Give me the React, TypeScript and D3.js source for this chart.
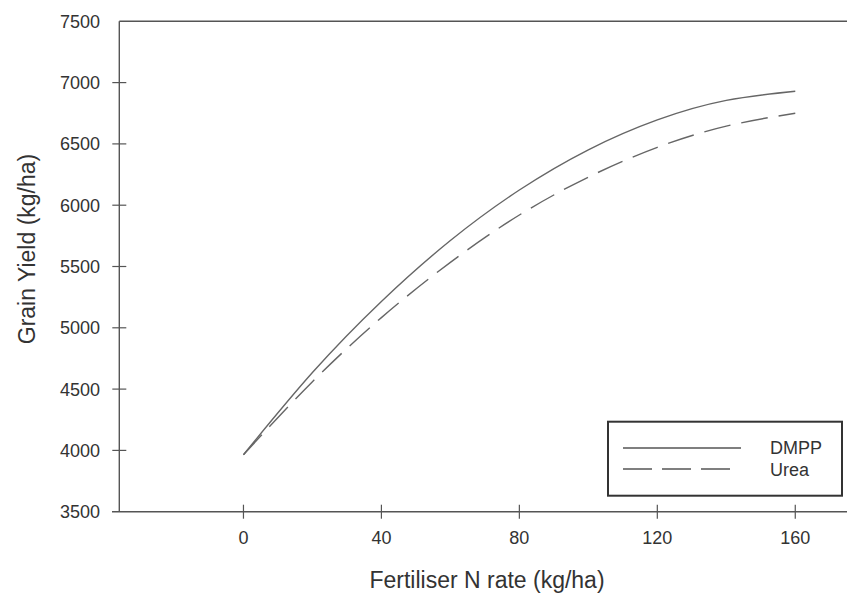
import React, { useEffect, useRef } from 'react'
import * as d3 from 'd3'

// N rates (kg/ha) where the curves were read
const nRates = [0, 20, 40, 60, 80, 100, 120, 140, 160]
// grain yield (kg/ha)
const dmpp = [3965, 4635, 5215, 5712, 6124, 6452, 6696, 6855, 6930]
const urea = [3965, 4560, 5083, 5534, 5920, 6229, 6472, 6645, 6750]

const xTicks = [0, 40, 80, 120, 160]
const yTicks = [3500, 4000, 4500, 5000, 5500, 6000, 6500, 7000, 7500]

const series = [
  { name: 'DMPP', values: dmpp, dash: null },
  { name: 'Urea', values: urea, dash: '27,11' },
]

const W = 847, H = 601
const FONT = '"Liberation Sans", Arial, sans-serif'
const INK = '#555'

export default function App() {
  const ref = useRef<SVGSVGElement>(null)

  useEffect(() => {
    const svg = d3.select(ref.current)
    svg.selectAll('*').remove()

    const x = d3.scaleLinear().domain([-36, 175]).range([119.3, 847])
    const y = d3.scaleLinear().domain([3500, 7500]).range([511.7, 21.3])

    const g = svg.append('g')

    // frame: y axis, top line, x axis (runs a little past the y axis)
    g.append('line').attr('x1', x(-36)).attr('x2', x(-36)).attr('y1', y(7500)).attr('y2', y(3500))
      .attr('stroke', INK).attr('stroke-width', 1.4)
    g.append('line').attr('x1', x(-36)).attr('x2', W).attr('y1', y(7500)).attr('y2', y(7500))
      .attr('stroke', INK).attr('stroke-width', 1.4)
    g.append('line').attr('x1', 112).attr('x2', W).attr('y1', y(3500)).attr('y2', y(3500))
      .attr('stroke', INK).attr('stroke-width', 1.4)

    // y ticks
    const yt = g.selectAll('.yt').data(yTicks).enter().append('g').attr('class', 'yt')
    yt.filter(d => d !== 7500 && d !== 3500).append('line')
      .attr('x1', x(-36) - 7).attr('x2', x(-36) + 7)
      .attr('y1', d => y(d)).attr('y2', d => y(d))
      .attr('stroke', INK).attr('stroke-width', 1.2)
    yt.append('text')
      .attr('x', 100).attr('y', d => y(d)).attr('dy', '0.36em')
      .attr('text-anchor', 'end').attr('font-family', FONT).attr('font-size', 18)
      .attr('fill', '#333').text(d => d)

    // x ticks
    const xt = g.selectAll('.xt').data(xTicks).enter().append('g').attr('class', 'xt')
    xt.append('line')
      .attr('x1', d => x(d)).attr('x2', d => x(d))
      .attr('y1', y(3500) - 7).attr('y2', y(3500) + 7)
      .attr('stroke', INK).attr('stroke-width', 1.2)
    xt.append('text')
      .attr('x', d => x(d)).attr('y', 538).attr('dy', '0.36em')
      .attr('text-anchor', 'middle').attr('font-family', FONT).attr('font-size', 18)
      .attr('fill', '#333').text(d => d)

    // axis titles
    g.append('text').attr('x', 487).attr('y', 588)
      .attr('text-anchor', 'middle').attr('font-family', FONT).attr('font-size', 23)
      .attr('fill', '#333').text('Fertiliser N rate (kg/ha)')
    g.append('text').attr('transform', 'translate(27,249) rotate(-90)').attr('dy', '0.36em')
      .attr('text-anchor', 'middle').attr('font-family', FONT).attr('font-size', 23)
      .attr('fill', '#333').text('Grain Yield (kg/ha)')

    // curves
    const line = d3.line<number>()
      .x((d, i) => x(nRates[i]))
      .y(d => y(d))
      .curve(d3.curveNatural)
    series.forEach(s => {
      const p = g.append('path').attr('d', line(s.values) as string)
        .attr('fill', 'none').attr('stroke', '#666').attr('stroke-width', 1.4)
      if (s.dash) p.attr('stroke-dasharray', s.dash)
    })

    // legend
    const lg = g.append('g')
    lg.append('rect').attr('x', 608).attr('y', 421.7).attr('width', 234).attr('height', 74)
      .attr('fill', 'white').attr('stroke', '#333').attr('stroke-width', 2)
    series.forEach((s, i) => {
      const yy = 448 + i * 21
      const l = lg.append('line').attr('x1', 623).attr('x2', i === 0 ? 741 : 732)
        .attr('y1', yy).attr('y2', yy).attr('stroke', '#555').attr('stroke-width', 1.4)
      if (s.dash) l.attr('stroke-dasharray', '29,10')
      lg.append('text').attr('x', 770).attr('y', 454 + i * 22)
        .attr('font-family', FONT).attr('font-size', 18).attr('fill', '#333').text(s.name)
    })
  }, [])

  return (
    <svg ref={ref} width={W} height={H}
      style={{ position: 'absolute', left: 0, top: 0, background: 'white' }} />
  )
}
